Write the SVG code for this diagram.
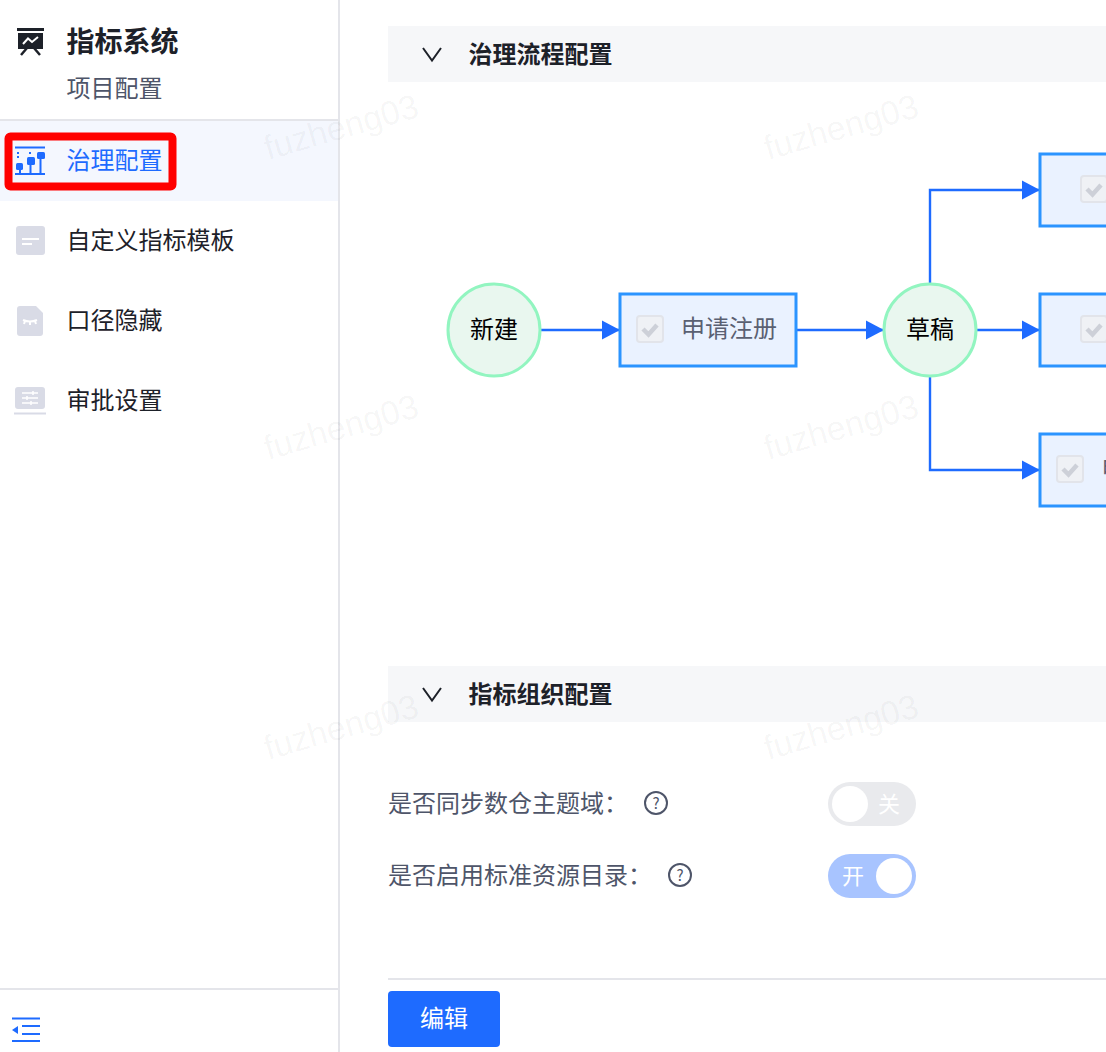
<svg xmlns="http://www.w3.org/2000/svg" width="1106" height="1052" viewBox="0 0 1106 1052">
<style>
text{font-family:"Noto Sans CJK SC","Liberation Sans",sans-serif}
.side{font-size:24px;fill:#1d2129}
.sec{font-size:24px;font-weight:700;fill:#1d2129}
.lab{font-size:24px;fill:#4e5569}
.node{fill:#eaf2ff;stroke:#2b94ff;stroke-width:3}
.circ{fill:#e9f7ef;stroke:#92f5c0;stroke-width:3}
.nt{font-size:24px;fill:#000;text-anchor:middle}
.bt{font-size:24px;fill:#5a6072}
.wm{font-family:"Liberation Sans",sans-serif;font-size:34px;fill:#000;fill-opacity:.045}
.cb{fill:#eff1f5;stroke:#e2e4ea;stroke-width:2}
.ck{fill:none;stroke:#cdd0d8;stroke-width:4.5}
.conn{fill:none;stroke:#1e6bff;stroke-width:2.4}
.help{fill:none;stroke:#4e5569;stroke-width:2}
.ico{fill:#d9dbe6}
</style>
<defs>
<marker id="arr" markerUnits="userSpaceOnUse" markerWidth="20" markerHeight="20" refX="18" refY="10" orient="auto"><path d="M0 0.500 L18 10 L0 19.500 Z" fill="#1e6bff"/></marker>
</defs>
<rect width="1106" height="1052" fill="#fff"/>
<g id="sidebar">
<rect x="0" y="121" width="338" height="80" fill="#f4f7fe"/>
<path d="M0 120H338M0 989H338" stroke="#e4e5ea" stroke-width="2"/>
<path d="M339 0V1052" stroke="#e4e5ea" stroke-width="2"/>
<g id="brand">
<path d="M17 28H44V31H17ZM18 33H43V49H18Z" fill="#1d2129"/>
<path d="M23 44L28 38.500L32 42L38 37" fill="none" stroke="#fff" stroke-width="2"/>
<path d="M27 48L21 55M34 48L40 55" stroke="#1d2129" stroke-width="2.500"/>
<text x="66.500" y="52" font-size="28" font-weight="700" fill="#1d2129">指标系统</text>
<text x="66.500" y="97" font-size="24" fill="#4e5569">项目配置</text>
</g>
<g id="menu-governance">
<rect x="8.500" y="136.500" width="164" height="50" rx="2" fill="none" stroke="#ff0000" stroke-width="8"/>
<path d="M15 147.500H45M15 174H45" stroke="#1e6bff" stroke-width="2"/>
<path d="M20 168V174M30.500 163V174M40.500 158V174" stroke="#1e6bff" stroke-width="2"/>
<rect x="16" y="163" width="7" height="7" rx="1.500" fill="#1e6bff"/>
<rect x="27" y="157" width="8" height="8" rx="1.500" fill="#1e6bff"/>
<rect x="37" y="152" width="8" height="7" rx="1.500" fill="#1e6bff"/>
<path d="M18 152V160M30 152V156" stroke="#1e6bff" stroke-width="2" stroke-dasharray="2 2"/>
<text x="66.500" y="169" font-size="24" fill="#1e6bff">治理配置</text>
</g>
<g id="menu-template">
<rect class="ico" x="16" y="226" width="29" height="29" rx="3"/>
<path d="M22 239H39M22 244H32" stroke="#fff" stroke-width="2"/>
<text class="side" x="66.500" y="249">自定义指标模板</text>
</g>
<g id="menu-hide">
<path class="ico" d="M20 306H36L43 313V333A3 3 0 0 1 40 336H20A3 3 0 0 1 17 333V309A3 3 0 0 1 20 306Z"/>
<path d="M23 320Q30 323 37 320M25 321L24 324M30 322V325M35 321L36 324" fill="none" stroke="#fff" stroke-width="2"/>
<text class="side" x="66.500" y="329">口径隐藏</text>
</g>
<g id="menu-approval">
<rect class="ico" x="15" y="387" width="30" height="22" rx="3"/>
<path d="M14 413.500H46" stroke="#d9dbe6" stroke-width="2"/>
<path d="M22 393H38M22 398H38M22 403H38M33 391V395M27 396V400M31 401V405" stroke="#fff" stroke-width="1.500"/>
<text class="side" x="66.500" y="409">审批设置</text>
</g>
<g id="collapse">
<path d="M12 1018.500H40M22 1026H40M22 1034H40M12 1041H40" stroke="#1e6bff" stroke-width="2"/>
<path d="M18 1026V1034L12 1030Z" fill="#1e6bff"/>
</g>
</g>
<g id="section-flow">
<rect x="388" y="26" width="718" height="56" fill="#f6f7f9"/>
<path d="M423 48L432 60.500L441 48" fill="none" stroke="#1d2129" stroke-width="2"/>
<text class="sec" x="468.500" y="62.500">治理流程配置</text>
</g>
<g id="connectors">
<path class="conn" d="M541 330H620" marker-end="url(#arr)"/>
<path class="conn" d="M797 330H884" marker-end="url(#arr)"/>
<path class="conn" d="M977 330H1040" marker-end="url(#arr)"/>
<path class="conn" d="M930 283V190H1040" marker-end="url(#arr)"/>
<path class="conn" d="M930 377V470H1040" marker-end="url(#arr)"/>
</g>
<g id="node-new">
<circle class="circ" cx="494" cy="330" r="46"/>
<text class="nt" x="494" y="338">新建</text>
</g>
<g id="node-register">
<rect class="node" x="620" y="294" width="176" height="72"/>
<rect class="cb" x="637" y="316" width="26" height="26" rx="3"/>
<path class="ck" d="M643 329L648.500 334.500L657 325"/>
<text class="bt" x="681" y="337">申请注册</text>
</g>
<g id="node-draft">
<circle class="circ" cx="930" cy="330" r="46"/>
<text class="nt" x="930" y="337.500">草稿</text>
</g>
<g id="node-top">
<rect class="node" x="1040" y="154" width="90" height="72"/>
<rect class="cb" x="1081" y="176" width="26" height="26" rx="3"/>
<path class="ck" d="M1087 189L1092.500 194.500L1101 185"/>
</g>
<g id="node-mid">
<rect class="node" x="1040" y="294" width="90" height="72"/>
<rect class="cb" x="1081" y="316" width="26" height="26" rx="3"/>
<path class="ck" d="M1087 329L1092.500 334.500L1101 325"/>
</g>
<g id="node-bot">
<rect class="node" x="1040" y="434" width="90" height="72"/>
<rect class="cb" x="1057" y="456" width="26" height="26" rx="3"/>
<path class="ck" d="M1063 469L1068.500 474.500L1077 465"/>
<text class="bt" x="1101.500" y="477">申</text>
</g>
<g id="section-org">
<rect x="388" y="666" width="718" height="56" fill="#f6f7f9"/>
<path d="M423 688L432 700.500L441 688" fill="none" stroke="#1d2129" stroke-width="2"/>
<text class="sec" x="468.500" y="702.500">指标组织配置</text>
</g>
<g id="row-sync">
<text class="lab" x="388" y="812">是否同步数仓主题域：</text>
<circle class="help" cx="656" cy="803" r="11"/>
<text x="656" y="809" font-size="15" fill="#4e5569" text-anchor="middle">?</text>
<rect x="828" y="782" width="88" height="44" rx="22" fill="#e9eaed"/>
<circle cx="850" cy="804" r="18" fill="#fff"/>
<text x="878" y="812" font-size="22" fill="#fff">关</text>
</g>
<g id="row-catalog">
<text class="lab" x="388" y="884">是否启用标准资源目录：</text>
<circle class="help" cx="680" cy="875" r="11"/>
<text x="680" y="881" font-size="15" fill="#4e5569" text-anchor="middle">?</text>
<rect x="828" y="854" width="88" height="44" rx="22" fill="#a8c4ff"/>
<circle cx="894" cy="876" r="18" fill="#fff"/>
<text x="842" y="884" font-size="22" fill="#fff">开</text>
</g>
<g id="footer">
<path d="M388 979H1106" stroke="#e4e5ea" stroke-width="2"/>
<rect x="388" y="991" width="112" height="56" rx="4" fill="#1e6bff"/>
<text x="444" y="1027" font-size="24" fill="#fff" text-anchor="middle">编辑</text>
</g>
<g id="watermarks">
<text class="wm" transform="translate(268 160) rotate(-16)">fuzheng03</text>
<text class="wm" transform="translate(768 160) rotate(-16)">fuzheng03</text>
<text class="wm" transform="translate(268 460) rotate(-16)">fuzheng03</text>
<text class="wm" transform="translate(768 460) rotate(-16)">fuzheng03</text>
<text class="wm" transform="translate(268 760) rotate(-16)">fuzheng03</text>
<text class="wm" transform="translate(768 760) rotate(-16)">fuzheng03</text>
</g>
</svg>
